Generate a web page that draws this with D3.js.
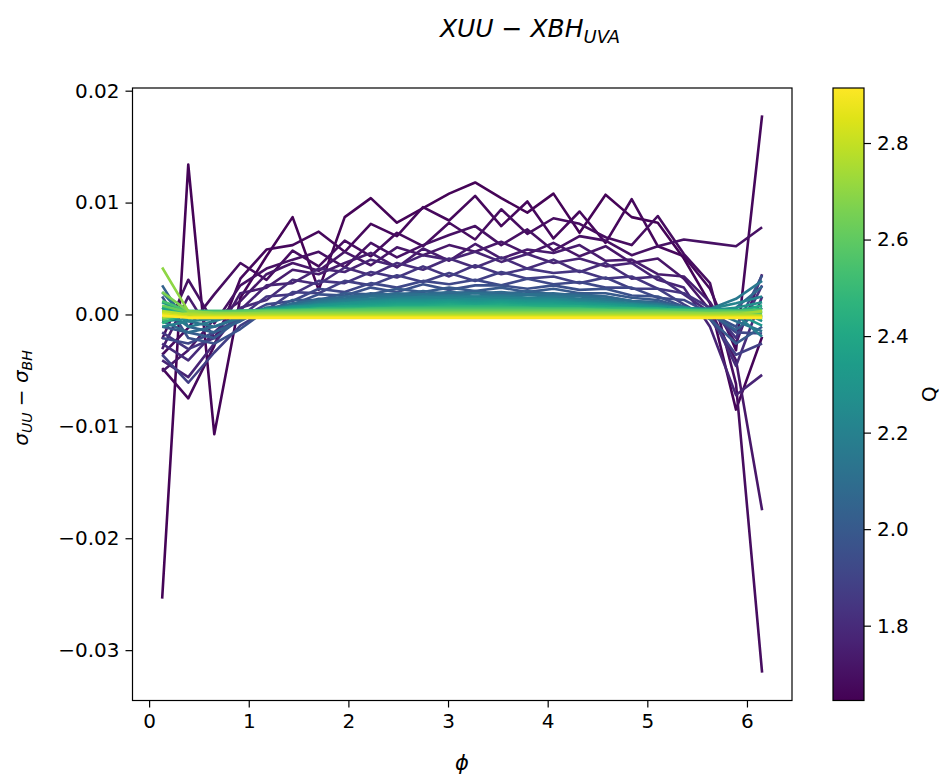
<!DOCTYPE html>
<html><head><meta charset="utf-8">
<script src="https://cdn.jsdelivr.net/npm/d3@7"></script>
<style>body{margin:0;background:#fff}svg{display:block}text{font-family:"DejaVu Sans",sans-serif;fill:#000}</style>
</head><body><svg id="c" width="949" height="778"></svg>
<script>
// phi bin centres
const phi = [0.131,0.393,0.654,0.916,1.178,1.440,1.702,1.963,2.225,2.487,2.749,3.011,3.272,3.534,3.796,4.058,4.320,4.581,4.843,5.105,5.367,5.629,5.890,6.152];
// Q value of each curve
const qValues = [1.655,1.67,1.685,1.70,1.72,1.74,1.77,1.80,1.84,1.88,1.92,1.96,2.00,2.04,
  2.08,2.12,2.16,2.19,2.22,2.25,2.28,2.31,2.34,2.37,2.40,2.43,2.46,
  2.50,2.54,2.58,2.62,2.66,2.70,2.74,2.78,2.84,2.91];
// sigma_UU - sigma_BH, in units of 1e-3
const seriesMilli = [
[-25.4,13.4,-10.7,1.5,5.2,8.7,2.2,8.7,10.4,8.2,9.5,10.8,11.8,10.4,9.1,10.8,7.3,10.7,8.7,8.2,5.0,1.0,-8.5,-2.0],
[-4.8,-7.5,-2.8,3.2,5.8,6.2,7.4,5.6,8.1,7.0,9.6,8.4,10.6,7.9,10.1,6.8,9.2,6.4,10.3,6.1,5.2,2.3,-3.2,17.8],
[-3.6,-1.2,1.8,4.6,3.1,5.7,4.3,6.6,5.2,7.3,6.1,8.2,6.7,9.4,7.2,8.6,8.1,6.9,6.2,8.8,5.4,2.8,-6.2,-32.0],
[-2.2,3.1,-0.8,2.6,4.1,4.9,5.6,4.2,6.4,5.1,6.2,7.1,7.9,6.2,7.6,5.7,7.0,6.6,5.3,6.1,6.7,6.4,6.1,7.8],
[-5.1,-3.2,-0.4,1.2,3.6,4.6,3.9,5.6,4.4,6.0,5.3,6.2,5.6,6.5,5.4,6.4,5.2,6.1,4.6,5.0,3.2,0.4,-4.1,-17.5],
[-3.1,1.6,-2.1,1.9,2.4,4.0,3.6,4.6,5.5,4.2,5.9,4.8,6.3,5.0,5.8,5.5,6.2,4.8,4.9,3.6,3.4,1.1,-2.6,3.6],
[-4.1,-5.6,-2.6,0.4,2.6,2.8,4.1,3.8,4.9,4.3,5.3,4.9,5.6,4.7,5.4,4.6,5.0,4.3,4.6,3.1,2.4,-1.1,-7.2,-5.4],
[-2.6,-4.1,-1.6,0.6,1.3,3.1,2.7,4.2,3.5,4.6,4.0,5.0,4.2,5.1,4.1,4.9,3.8,4.6,3.2,3.4,1.8,0.2,-4.6,1.6],
[-1.6,-3.1,-2.1,-0.2,1.6,1.8,3.0,2.8,3.8,3.3,4.3,3.4,4.4,3.6,4.1,3.7,3.9,3.2,3.4,2.3,1.9,0.6,-2.1,2.6],
[-3.6,-6.1,-3.4,-1.0,0.4,2.0,1.9,3.0,2.6,3.5,2.9,3.7,3.0,3.8,3.2,3.4,2.8,3.3,2.3,2.3,0.9,-0.4,-3.6,-2.6],
[-2.1,-2.6,-1.6,-0.3,0.9,1.2,2.3,2.0,2.8,2.4,3.0,2.7,3.1,2.6,3.2,2.7,2.9,2.4,2.4,1.5,1.3,0.1,-1.6,-1.7],
[1.6,-2.1,-2.6,-1.3,0.4,0.9,1.8,1.7,2.4,2.0,2.7,2.2,2.6,2.6,2.3,2.6,2.2,2.3,1.7,1.6,0.7,0.1,-1.1,3.5],
[-1.1,-1.6,-2.1,-0.4,0.2,1.3,1.3,1.9,1.8,2.3,2.0,2.4,2.1,2.4,2.0,2.3,1.9,1.9,1.5,1.3,0.6,-0.4,-2.6,-1.1],
[2.6,-1.1,-1.6,-0.6,0.6,0.8,1.4,1.4,1.9,1.7,2.1,1.8,2.1,1.8,2.1,1.8,1.8,1.6,1.2,1.1,0.5,0.1,-1.4,0.6],
[-0.6,-1.6,-1.1,-0.2,0.3,1.0,1.3,1.6,1.7,1.9,1.8,2.0,1.9,2.0,1.8,1.9,1.7,1.6,1.2,1.0,0.7,0.1,0.6,2.5],
[2.0,-0.6,-1.1,-0.3,0.6,0.8,1.2,1.4,1.6,1.7,1.8,1.7,1.9,1.7,1.8,1.7,1.6,1.4,1.2,0.9,0.6,0.4,-0.6,-1.5],
[0.6,-1.1,-0.6,0.1,0.4,0.8,1.1,1.3,1.4,1.6,1.5,1.7,1.6,1.7,1.5,1.6,1.4,1.3,1.0,0.9,0.5,0.5,1.4,3.0],
[-1.1,-0.6,-0.4,0.0,0.5,0.7,1.0,1.2,1.4,1.4,1.6,1.5,1.6,1.5,1.5,1.4,1.3,1.1,1.0,0.7,0.6,0.4,0.0,-2.0],
[1.1,0.1,-0.4,0.1,0.4,0.7,0.9,1.1,1.2,1.4,1.4,1.5,1.4,1.5,1.4,1.4,1.2,1.1,0.9,0.8,0.5,0.5,1.0,1.6],
[-0.6,-0.4,-0.1,0.1,0.5,0.6,0.9,1.0,1.2,1.3,1.3,1.3,1.4,1.3,1.3,1.3,1.1,1.0,0.9,0.7,0.5,0.3,0.5,-0.6],
[0.6,0.0,-0.2,0.2,0.4,0.7,0.8,1.0,1.1,1.2,1.2,1.3,1.2,1.3,1.2,1.2,1.0,0.9,0.8,0.7,0.6,0.4,0.6,1.1],
[1.1,0.3,-0.1,0.1,0.4,0.6,0.8,0.9,1.0,1.1,1.1,1.2,1.1,1.2,1.1,1.1,1.0,0.9,0.8,0.6,0.5,0.3,0.1,-1.0],
[-0.3,0.2,0.1,0.2,0.4,0.6,0.7,0.8,0.9,1.0,1.0,1.1,1.0,1.1,1.0,1.0,0.9,0.8,0.7,0.6,0.5,0.3,0.4,0.2],
[0.4,0.2,0.2,0.2,0.3,0.5,0.6,0.7,0.8,0.9,0.9,1.0,0.9,1.0,0.9,0.9,0.8,0.7,0.6,0.5,0.4,0.3,0.3,-0.4],
[-0.4,0.2,0.2,0.3,0.4,0.5,0.6,0.7,0.7,0.8,0.8,0.9,0.8,0.9,0.8,0.8,0.7,0.7,0.6,0.5,0.4,0.4,0.3,0.8],
[0.7,0.2,0.2,0.3,0.3,0.4,0.5,0.6,0.6,0.7,0.7,0.8,0.7,0.8,0.7,0.7,0.7,0.6,0.5,0.5,0.4,0.3,0.3,-0.2],
[-0.8,0.2,0.2,0.3,0.4,0.4,0.5,0.5,0.6,0.6,0.6,0.7,0.7,0.7,0.6,0.6,0.6,0.5,0.5,0.5,0.4,0.4,0.3,0.5],
[0.2,0.3,0.3,0.3,0.4,0.4,0.5,0.5,0.5,0.6,0.6,0.6,0.6,0.6,0.6,0.5,0.5,0.5,0.5,0.4,0.4,0.4,0.3,-0.3],
[1.2,0.3,0.3,0.3,0.3,0.4,0.4,0.4,0.5,0.5,0.5,0.5,0.5,0.5,0.5,0.5,0.5,0.4,0.4,0.4,0.4,0.3,0.3,0.1],
[-0.5,0.2,0.2,0.3,0.3,0.3,0.4,0.4,0.4,0.4,0.4,0.4,0.4,0.4,0.4,0.4,0.4,0.4,0.3,0.3,0.3,0.3,0.3,0.4],
[0.8,0.2,0.2,0.2,0.3,0.3,0.3,0.3,0.3,0.3,0.3,0.3,0.3,0.3,0.3,0.3,0.3,0.3,0.3,0.3,0.2,0.2,0.2,-0.1],
[2.0,0.3,0.1,0.1,0.2,0.2,0.2,0.2,0.2,0.2,0.2,0.2,0.2,0.2,0.2,0.2,0.2,0.2,0.2,0.2,0.2,0.1,0.2,0.2],
[4.2,0.3,0.1,0.1,0.1,0.1,0.1,0.1,0.1,0.1,0.1,0.1,0.1,0.1,0.1,0.1,0.1,0.1,0.1,0.1,0.1,0.1,0.1,-0.2],
[-0.3,0.1,0.0,0.0,0.0,0.0,0.0,0.0,0.0,0.0,0.0,0.0,0.0,0.0,0.0,0.0,0.0,0.0,0.0,0.0,0.0,0.0,0.0,0.3],
[0.3,0.0,-0.1,-0.1,-0.1,-0.1,-0.1,-0.1,-0.1,-0.1,-0.1,-0.1,-0.1,-0.1,-0.1,-0.1,-0.1,-0.1,-0.1,-0.1,-0.1,-0.1,-0.1,-0.1],
[0.1,-0.2,-0.2,-0.2,-0.2,-0.2,-0.2,-0.2,-0.2,-0.2,-0.2,-0.2,-0.2,-0.2,-0.2,-0.2,-0.2,-0.2,-0.2,-0.2,-0.2,-0.2,-0.2,-0.2],
[-0.1,-0.3,-0.3,-0.3,-0.3,-0.3,-0.3,-0.3,-0.3,-0.3,-0.3,-0.3,-0.3,-0.3,-0.3,-0.3,-0.3,-0.3,-0.3,-0.3,-0.3,-0.3,-0.3,-0.3]
];
const xTicks = [0,1,2,3,4,5,6];
const yTicks = [0.02,0.01,0.00,-0.01,-0.02,-0.03];
const qTicks = [1.8,2.0,2.2,2.4,2.6,2.8];
const qRange = [1.645, 2.914];

const svg = d3.select("#c");
const L = 132.5, R = 792, T = 88, B = 700.5;
const x = d3.scaleLinear().domain([-0.1667, 6.452]).range([L, R]);
const y = d3.scaleLinear().domain([-0.0345, 0.02024]).range([B, T]);
const col = q => d3.interpolateViridis((q - qRange[0]) / (qRange[1] - qRange[0]));

svg.append("defs").append("clipPath").attr("id","clip").append("rect")
  .attr("x",L).attr("y",T).attr("width",R-L).attr("height",B-T);

const line = d3.line().x((d,i)=>x(phi[i])).y(d=>y(d*1e-3));
const g = svg.append("g").attr("clip-path","url(#clip)");
seriesMilli.forEach((s,k)=>{
  g.append("path").attr("d", line(s)).attr("fill","none")
   .attr("stroke", col(qValues[k])).attr("stroke-width",2.6).attr("stroke-linejoin","round");
});

// axes
const fmtY = d => d === 0 ? "0.00" : d3.format(".2f")(d).replace("-","\u2212");
const xa = svg.append("g").attr("transform",`translate(0,${B})`)
  .call(d3.axisBottom(x).tickValues(xTicks).tickSize(7).tickPadding(6).tickFormat(d3.format("d")));
const ya = svg.append("g").attr("transform",`translate(${L},0)`)
  .call(d3.axisLeft(y).tickValues(yTicks).tickSize(7).tickPadding(6).tickFormat(fmtY));
[xa,ya].forEach(a=>{
  a.select(".domain").remove();
  a.selectAll(".tick line").attr("stroke","#000").attr("stroke-width",1.2);
  a.selectAll(".tick text").attr("font-size",20).attr("font-family","DejaVu Sans").attr("fill","#000");
});
svg.append("rect").attr("x",L).attr("y",T).attr("width",R-L).attr("height",B-T)
  .attr("fill","none").attr("stroke","#000").attr("stroke-width",1.2);

// colorbar
const CL = 833, CR = 864;
const cy = d3.scaleLinear().domain(qRange).range([B, T]);
const grad = svg.select("defs").append("linearGradient").attr("id","vir")
  .attr("x1",0).attr("y1",1).attr("x2",0).attr("y2",0);
d3.range(0,1.0001,0.05).forEach(t=>grad.append("stop").attr("offset",t).attr("stop-color",d3.interpolateViridis(t)));
svg.append("rect").attr("x",CL).attr("y",T).attr("width",CR-CL).attr("height",B-T)
  .attr("fill","url(#vir)").attr("stroke","#000").attr("stroke-width",1.2);
const ca = svg.append("g").attr("transform",`translate(${CR},0)`)
  .call(d3.axisRight(cy).tickValues(qTicks).tickSize(7).tickPadding(6).tickFormat(d3.format(".1f")));
ca.select(".domain").remove();
ca.selectAll(".tick line").attr("stroke","#000").attr("stroke-width",1.2);
ca.selectAll(".tick text").attr("font-size",20).attr("font-family","DejaVu Sans").attr("fill","#000");
svg.append("text").attr("transform","translate(936,394) rotate(-90)").attr("text-anchor","middle")
  .attr("font-size",20).text("Q");

// title
const t = svg.append("text").attr("x",530).attr("y",37).attr("text-anchor","middle")
  .attr("font-size",25).attr("font-style","italic");
t.append("tspan").text("XUU \u2212 XBH");
t.append("tspan").attr("font-size",18).attr("dy",6).text("UVA");

// x label
svg.append("text").attr("x",462).attr("y",770).attr("text-anchor","middle")
  .attr("font-size",21).attr("font-style","italic").text("\u03d5");

// y label
const yl = svg.append("text").attr("transform","translate(28,398) rotate(-90)").attr("text-anchor","middle")
  .attr("font-size",20).attr("font-style","italic");
yl.append("tspan").text("\u03c3");
yl.append("tspan").attr("font-size",14).attr("dy",4).text("UU");
yl.append("tspan").attr("dy",-4).text(" \u2212 \u03c3");
yl.append("tspan").attr("font-size",14).attr("dy",4).text("BH");
</script></body></html>
